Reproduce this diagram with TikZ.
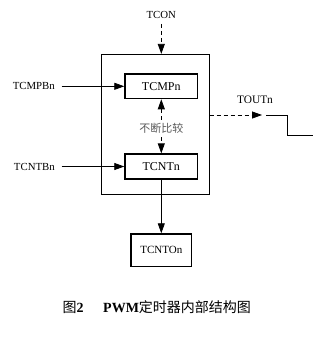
\documentclass[tikz,border=0pt]{standalone}
\usepackage{fontspec}
\setmainfont{Liberation Serif}
\newfontfamily\cjk{Noto Sans CJK SC}
\usetikzlibrary{arrows.meta}
\begin{document}
\begin{tikzpicture}[x=1pt,y=-1pt,
  tip/.style={-{Triangle[length=10pt,width=7pt]}},
  dtip/.style={{Triangle[length=10pt,width=7pt]}-{Triangle[length=10pt,width=7pt]}},
  dsh/.style={dash pattern=on 4pt off 3pt},
  conn/.style={line width=0.8pt},
  inbox/.style={draw,line width=1.3pt,inner sep=0pt,font=\fontsize{12}{14}\selectfont},
  lbl/.style={inner sep=0pt,font=\fontsize{10.8}{13}\selectfont}]
\useasboundingbox (0,0) rectangle (328,338);
\node[draw,line width=0.8pt,minimum width=107.8pt,minimum height=139.7pt,inner sep=0pt] (outer) at (155.4,124.15) {};
\node[inbox,minimum width=72.7pt,minimum height=24.7pt] (tcmp) at (161.3,86.3) {TCMPn};
\node[inbox,minimum width=72.7pt,minimum height=25pt] (tcnt) at (161.3,166.5) {TCNTn};
\node[inbox,minimum width=60.7pt,minimum height=32.7pt,font=\fontsize{11}{13}\selectfont] (tcnto) at (161.3,250.3) {TCNTOn};
\node[lbl] (tcon) at (161.3,15) {TCON};
\node[lbl,anchor=east] (tcmpb) at (55,86.3) {TCMPBn};
\node[lbl,anchor=east] (tcntb) at (55,166.5) {TCNTBn};
\node[lbl,font=\fontsize{11.4}{13}\selectfont] (tout) at (255,100) {TOUTn};
\coordinate (outtip) at (262,115);
\coordinate (w1) at (266,115);
\coordinate (w2) at (287,115);
\coordinate (w3) at (287,135.5);
\coordinate (w4) at (313,135.5);
\draw[conn,tip,dsh,shorten <=5pt] (tcon.south) -- (tcon.south |- outer.north);
\draw[conn,tip,shorten <=6.5pt] (tcmpb.east) -- (tcmp.west);
\draw[conn,tip,shorten <=6.5pt] (tcntb.east) -- (tcnt.west);
\draw[conn,dtip,dsh] (tcmp.south) -- (tcnt.north);
\node[fill=white,inner sep=1pt,text=black!65,font=\cjk\fontsize{11}{13}\selectfont] (cmp) at (161.3,128) {不断比较};
\draw[conn,tip] (tcnt.south) -- (tcnto.north);
\draw[conn,tip,dsh] (outer.east |- outtip) -- (outtip);
\draw[conn] (w1) -- (w2) -- (w3) -- (w4);
\node[inner sep=0pt,anchor=west,font=\fontsize{14}{16}\selectfont] (cap1) at (62.5,307.5) {{\cjk 图}\textbf{2}};
\node[inner sep=0pt,anchor=west,font=\fontsize{14}{16}\selectfont] (cap2) at (103,307.5) {\textbf{PWM}{\cjk 定时器内部结构图}};
\end{tikzpicture}
\end{document}
